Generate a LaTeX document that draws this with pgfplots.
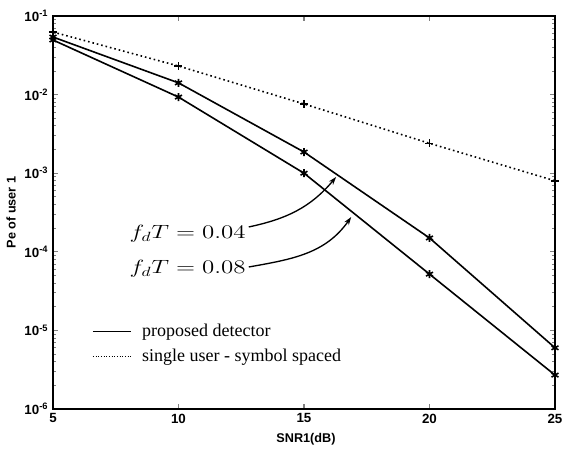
\documentclass[border=0pt]{standalone}
\usepackage{fontspec}
\setmainfont{Liberation Serif}
\setsansfont{Liberation Sans}
\usepackage{pgfplots}
\pgfplotsset{compat=1.18}
\usetikzlibrary{arrows.meta}
\begin{document}
\begin{tikzpicture}
\begin{axis}[
  scale only axis,
  width=376.5pt, height=294.75pt,
  at={(0,0)}, anchor=south west,
  ymode=log,
  xmin=5, xmax=25, ymin=1e-6, ymax=1e-1,
  xtick={5,10,15,20,25},
  xticklabels={\textbf{5},\textbf{10},\textbf{15},\textbf{20},\textbf{25}},
  ytick={1e-6,1e-5,1e-4,1e-3,1e-2,1e-1},
  yticklabels={\textbf{10}\textsuperscript{\textbf{-6}},\textbf{10}\textsuperscript{\textbf{-5}},\textbf{10}\textsuperscript{\textbf{-4}},\textbf{10}\textsuperscript{\textbf{-3}},\textbf{10}\textsuperscript{\textbf{-2}},\textbf{10}\textsuperscript{\textbf{-1}}},
  ticklabel style={font=\sffamily\fontsize{10}{12}\selectfont},
  axis line style={line width=1pt},
  major tick style={line width=0.8pt},
  minor tick style={line width=0.6pt},
  major tick length=4pt, minor tick length=2.5pt,
  xlabel={\textbf{SNR1(dB)}},
  ylabel={\textbf{Pe of user 1}},
  label style={font=\sffamily\fontsize{9.5}{11}\selectfont},
  xlabel style={at={(axis description cs:0.504,-0.0763)}, anchor=center},
  ylabel style={at={(axis description cs:-0.0837,0.5)}, anchor=center},
  legend style={draw=none, fill=none, at={(axis description cs:0.07,0.23)}, anchor=north west,
    font=\fontsize{13.5}{15}\selectfont, row sep=4pt},
  legend cell align=left,
  legend image code/.code={\draw[#1] (0cm,0cm) -- (1cm,0cm);},
]
\addplot[black, line width=1.2pt, mark=asterisk, mark size=3pt, forget plot] coordinates {
  (5,0.054) (10,0.0141) (15,0.00186) (20,1.5e-4) (25,6e-6)};
\addplot[black, line width=1.2pt, mark=asterisk, mark size=3pt, forget plot] coordinates {
  (5,0.0495) (10,0.0093) (15,0.001) (20,5.2e-5) (25,2.7e-6)};
\addplot[black, line width=1.2pt, dash pattern=on 1.2pt off 2.2pt, mark=+, mark size=3pt, mark options={solid}, forget plot] coordinates {
  (5,0.0625) (10,0.0231) (15,0.0076) (20,0.0024) (25,0.0008)};
\addlegendimage{black, line width=0.8pt}
\addlegendentry{\hspace{6pt}proposed detector}
\addlegendimage{black, line width=0.8pt, dash pattern=on 0.8pt off 1.2pt}
\addlegendentry{\hspace{6pt}single user - symbol spaced}
\node[anchor=base east, inner sep=0pt, font=\fontsize{14}{16}\selectfont] at (axis cs:12.68,1.456e-4) {\scalebox{1.3}[1]{$f_dT = 0.04$}};
\node[anchor=base east, inner sep=0pt, font=\fontsize{14}{16}\selectfont] at (axis cs:12.68,5.22e-5) {\scalebox{1.3}[1]{$f_dT = 0.08$}};
\draw[line width=1pt, -{Stealth[length=6pt,width=4pt]}] (axis cs:12.8,2.07e-4) to[out=12,in=230] (axis cs:16.28,8.95e-4);
\draw[line width=1pt, -{Stealth[length=6pt,width=4pt]}] (axis cs:12.8,6.41e-5) to[out=10,in=235] (axis cs:16.88,2.77e-4);
\end{axis}
\pgfresetboundingbox
\path (-39.75pt,-30pt) rectangle (381.75pt,306.75pt);
\end{tikzpicture}
\end{document}
